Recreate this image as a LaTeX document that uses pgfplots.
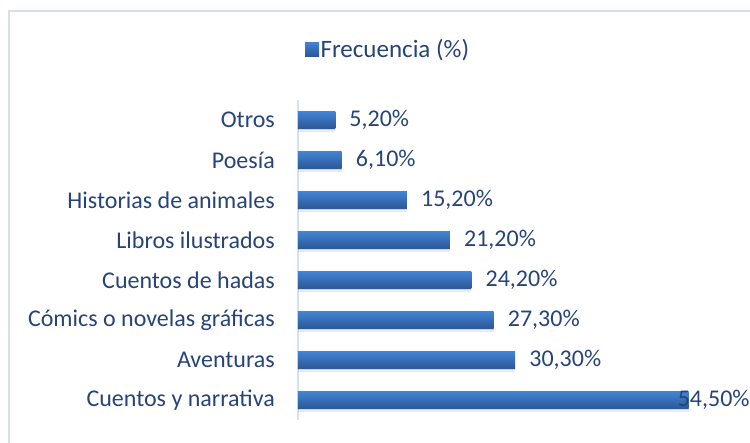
\documentclass[border=0pt]{standalone}
\usepackage{fontspec}
\setmainfont{Carlito}
\usepackage{pgfplots}
\pgfplotsset{compat=1.18}
\definecolor{txt}{HTML}{264478}
\definecolor{frame}{HTML}{D6E0F2}
\definecolor{barTop}{HTML}{4383D5}
\definecolor{barBot}{HTML}{2C5896}

\newcommand{\lblfont}{\fontsize{24}{28}\selectfont}
% #1 = category index, #2 = value, #3 = label, #4 = label offset (pt)
\newcommand{\mybar}[4]{%
\addplot[xbar, bar width=17pt, bar shift=-2pt, draw=none, fill=black, fill opacity=0.09, forget plot] coordinates {(#2,#1)};
\addplot[xbar, bar width=17pt, bar shift=-4pt, draw=none, fill=black, fill opacity=0.08, forget plot] coordinates {(#2,#1)};
\addplot[xbar, bar width=17pt, draw=none, top color=barTop, bottom color=barBot, forget plot,
  nodes near coords={#3\%},
  every node near coord/.append style={anchor=west, inner sep=0pt, xshift=#4pt, text=txt, font=\lblfont}]
  coordinates {(#2,#1)};}

\begin{document}
\begin{tikzpicture}
\useasboundingbox (0pt,0pt) rectangle (750pt,443pt);
\draw[frame, line width=2pt] (9pt,-5pt) -- (9pt,432pt) -- (760pt,432pt);
\begin{axis}[
  at={(298pt,23pt)}, anchor=south west,
  scale only axis, width=430pt, height=320pt,
  xmin=0, xmax=60, ymin=-0.5, ymax=7.5,
  axis x line=none,
  axis y line*=left,
  y axis line style={-, frame, line width=2pt},
  ytick={0,...,7},
  yticklabels={Cuentos y narrativa, Aventuras, Cómics o novelas gráficas, Cuentos de hadas, Libros ilustrados, Historias de animales, Poesía, Otros~},
  major tick length=0pt,
  yticklabel style={font=\lblfont, text=txt, inner sep=0pt, xshift=-23pt, anchor=east},
  legend style={at={(0.209,1.159)}, anchor=center, draw=none, fill=none, font=\fontsize{25}{29}\selectfont, text=txt,
    nodes={inner sep=1.5pt}},
  clip=false,
]
\mybar{0}{54.5}{54,50}{-11}
\mybar{1}{30.3}{30,30}{14}
\mybar{2}{27.3}{27,30}{14}
\mybar{3}{24.2}{24,20}{14}
\mybar{4}{21.2}{21,20}{14}
\mybar{5}{15.2}{15,20}{14}
\mybar{6}{6.1}{6,10}{14}
\mybar{7}{5.2}{5,20}{14}
\addlegendimage{legend image code/.code={\path[draw=none, top color=barTop, bottom color=barBot] (1pt,-7pt) rectangle (15pt,7pt);}}
\addlegendentry{Frecuencia (\%)}
\end{axis}
\end{tikzpicture}
\end{document}
